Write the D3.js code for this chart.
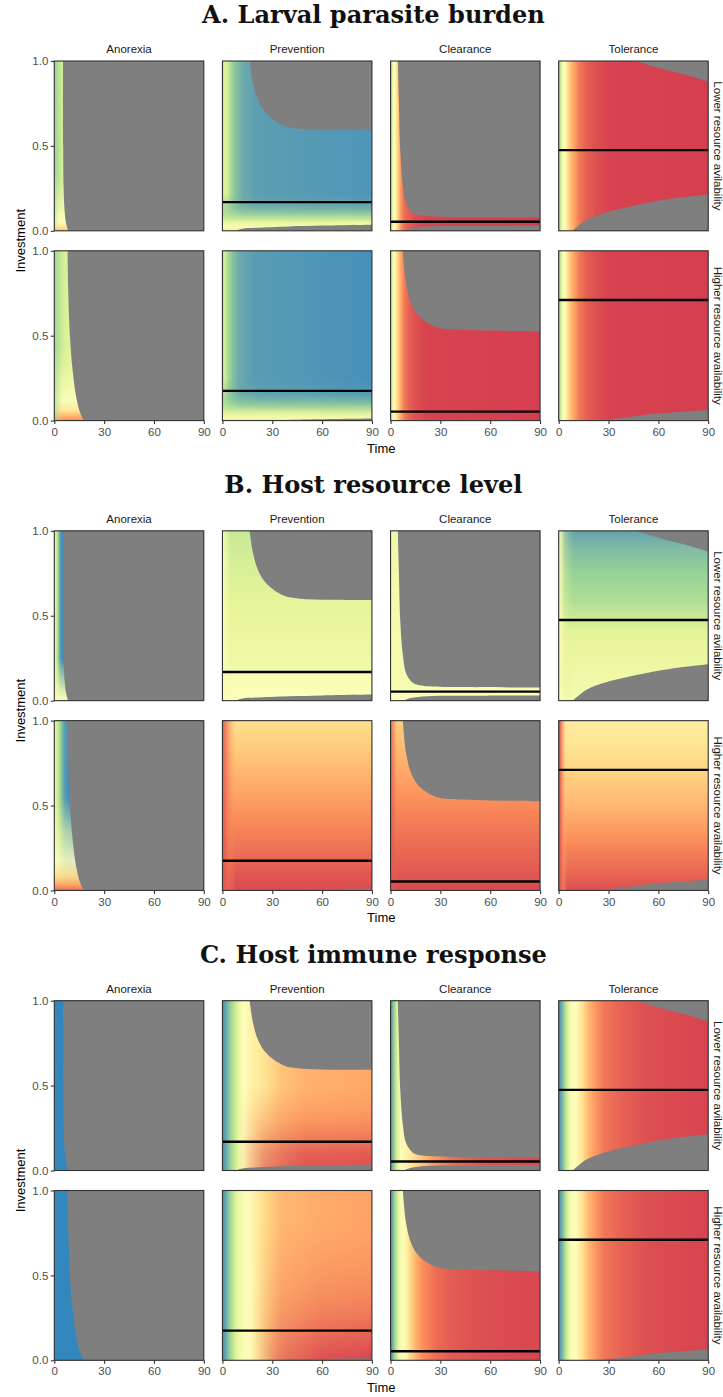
<!DOCTYPE html>
<html>
<head>
<meta charset="utf-8">
<script src="https://cdn.jsdelivr.net/npm/d3@7"></script>
<style>
  body { margin: 0; background: #fff; }
  svg { display: block; }
  text { font-family: "Liberation Sans", Arial, sans-serif; }
</style>
</head>
<body>
<svg id="chart" width="723" height="1397"></svg>
<script>
// facets and ticks
const strategies = ["Anorexia", "Prevention", "Clearance", "Tolerance"];
const resourceLabels = ["Lower resource avilability", "Higher resource availability"];
const sectionTitles = ["A. Larval parasite burden", "B. Host resource level", "C. Host immune response"];
const timeTicks = [0, 30, 60, 90];
const investTicks = [0, 0.5, 1];

// grey = host dead. same edges in all three sections, points are [time, investment]
const deathTopLow = [
  [[5.3, 1], [5.35, 0.5], [5.6, 0.25], [6.2, 0.12], [7, 0.05], [8.3, 0]],
  [[16.4, 1], [18.4, 0.87], [21.4, 0.77], [26.5, 0.69], [36.5, 0.62], [46.6, 0.6], [65, 0.594], [90, 0.593]],
  [[4.4, 1], [5, 0.77], [5.8, 0.48], [7.4, 0.27], [9.4, 0.16], [13.4, 0.105], [19.5, 0.088], [37.6, 0.08], [90, 0.078]],
  [[46.7, 1], [60.8, 0.957], [76.9, 0.917], [90, 0.878]]
];
const deathTopHigh = [
  [[8, 1], [8.35, 0.78], [9.4, 0.5], [11, 0.3], [13, 0.15], [15.4, 0.05], [17.8, 0]],
  null,
  [[7.4, 1], [9.4, 0.805], [12.4, 0.69], [17.5, 0.61], [27.5, 0.55], [43.6, 0.535], [60, 0.53], [90, 0.525]],
  null
];
const deathBottomLow = [
  null,
  [[8, 0], [12, 0.012], [20, 0.018], [40, 0.026], [60, 0.031], [90, 0.036]],
  [[8, 0], [12, 0.015], [22, 0.026], [50, 0.029], [90, 0.031]],
  [[8.4, 0], [16.5, 0.063], [26.5, 0.102], [46.7, 0.151], [66.8, 0.187], [90, 0.214]]
];
const deathBottomHigh = [
  null,
  [[28, 0], [50, 0.006], [90, 0.012]],
  null,
  [[22.5, 0], [36.6, 0.014], [56.7, 0.039], [90, 0.063]]
];

// optimal investment (black line)
const optimumLow = [null, 0.169, 0.053, 0.475];
const optimumHigh = [null, 0.175, 0.053, 0.71];

// fill values, 0 = red end and 1 = blue end of the Spectral scale
// [position, value] or [position, value, alpha]; fade = [position, alpha] along the other axis
function alongTime(stops, fade) { return { axis: "time", stops: stops, fade: fade }; }
function alongInvest(stops, fade) { return { axis: "invest", stops: stops, fade: fade }; }

const parasiteLowFill = [
  [alongTime([[0, 0.81], [1.5, 0.8], [3, 0.76], [5, 0.7], [9, 0.68]]),
   alongInvest([[0, 0.25, 1], [0.02, 0.36, 1], [0.06, 0.5, 0.9], [0.2, 0.6, 0.55], [0.35, 0.65, 0]],
               [[0, 0.5], [2.5, 1], [90, 1]])],
  [alongTime([[0, 0.76], [1.5, 0.68], [3, 0.7], [5, 0.8], [8, 0.87], [12, 0.92], [20, 0.95], [90, 0.97]]),
   alongInvest([[0, 0.4, 1], [0.02, 0.55, 1], [0.05, 0.65, 1], [0.09, 0.78, 0.85], [0.14, 0.88, 0.5], [0.22, 0.93, 0]])],
  [alongTime([[0, 0.82], [0.8, 0.72], [1.5, 0.57], [2.5, 0.49], [3.5, 0.37], [4.5, 0.3], [5.8, 0.21], [7.5, 0.12], [10, 0.07], [14, 0.035], [20, 0.01], [90, 0]])],
  [alongTime([[0, 0.85], [1, 0.75], [2, 0.59], [3.5, 0.49], [5, 0.37], [7, 0.275], [9.5, 0.205], [12.5, 0.12], [17, 0.065], [22, 0.035], [30, 0.008], [90, 0]])]
];
const parasiteHighFill = [
  [alongTime([[0, 0.82], [3, 0.76], [6, 0.7], [10, 0.67], [18, 0.66]]),
   alongInvest([[0, 0.16, 1], [0.025, 0.24, 1], [0.06, 0.37, 0.95], [0.12, 0.5, 0.85], [0.3, 0.6, 0.5], [0.45, 0.66, 0]],
               [[0, 0.35], [3, 0.7], [5, 1], [90, 1]])],
  [alongTime([[0, 0.77], [1.5, 0.7], [3, 0.79], [6, 0.87], [10, 0.925], [20, 0.955], [90, 0.98]]),
   alongInvest([[0, 0.32, 1], [0.015, 0.56, 1], [0.05, 0.68, 0.95], [0.1, 0.82, 0.7], [0.16, 0.9, 0.3], [0.25, 0.95, 0]])],
  [alongTime([[0, 0.82], [1, 0.68], [2, 0.49], [3.5, 0.37], [5, 0.275], [6.5, 0.205], [8.5, 0.12], [11, 0.07], [15, 0.035], [22, 0.01], [90, 0]])],
  [alongTime([[0, 0.85], [1, 0.75], [2, 0.59], [3.5, 0.49], [5, 0.37], [7, 0.275], [9.5, 0.205], [12.5, 0.12], [17, 0.065], [22, 0.035], [30, 0.008], [90, 0]])]
];

const resourceLowFill = [
  [alongTime([[0, 0.6], [1.5, 0.73], [2.5, 0.85], [3.5, 0.95], [5, 0.99], [9, 1]]),
   alongInvest([[0, 0.52, 1], [0.05, 0.58, 0.9], [0.15, 0.62, 0.5], [0.25, 0.65, 0]])],
  [alongInvest([[0, 0.52], [0.17, 0.56], [0.2, 0.6], [0.3, 0.62], [0.55, 0.66], [0.8, 0.7], [1, 0.73]]),
   alongTime([[0, 0.53, 0.9], [5, 0.55, 0]])],
  [alongInvest([[0, 0.51], [0.05, 0.53], [0.09, 0.57], [1, 0.6]])],
  [alongInvest([[0, 0.56], [0.1, 0.6], [0.25, 0.63], [0.4, 0.67], [0.478, 0.72], [0.6, 0.79], [0.75, 0.84], [0.9, 0.89], [1, 0.94]]),
   alongTime([[0, 0.47, 1], [1.5, 0.55, 0.8], [4, 0.65, 0.35], [9, 0.7, 0]])]
];
const resourceHighFill = [
  [alongTime([[0, 0.62], [2, 0.72], [4, 0.85], [6, 0.95], [9, 0.99], [18, 1]]),
   alongInvest([[0, 0.1, 1], [0.03, 0.2, 1], [0.08, 0.33, 0.95], [0.18, 0.5, 0.85], [0.35, 0.62, 0.6], [0.55, 0.66, 0]])],
  [alongInvest([[0, 0.02], [0.1, 0.05], [0.2, 0.09], [0.4, 0.16], [0.6, 0.22], [0.8, 0.28], [1, 0.34]]),
   alongTime([[0, 0.03, 0.9], [3, 0.1, 0.6], [8, 0.2, 0]])],
  [alongInvest([[0, 0.02], [0.1, 0.05], [0.3, 0.1], [0.5, 0.16], [0.7, 0.22], [1, 0.3]]),
   alongTime([[0, 0.03, 0.8], [4, 0.1, 0]])],
  [alongInvest([[0, 0.03], [0.1, 0.08], [0.3, 0.17], [0.5, 0.25], [0.7, 0.31], [0.85, 0.36], [1, 0.4]]),
   alongTime([[0, 0, 1], [2, 0.12, 0.7], [5, 0.3, 0]])]
];

const immuneLowFill = [
  [alongTime([[0, 1], [90, 1]])],
  [alongTime([[0, 0.99], [2, 0.93], [4.5, 0.85], [7, 0.75], [10, 0.63], [13, 0.51], [17, 0.43], [25, 0.36], [35, 0.28], [50, 0.24], [90, 0.22]]),
   alongInvest([[0, 0.03, 1], [0.1, 0.05, 0.95], [0.2, 0.1, 0.8], [0.35, 0.16, 0.45], [0.5, 0.2, 0]],
               [[10, 0], [25, 0.6], [50, 0.95], [90, 1]])],
  [alongTime([[0, 0.99], [1.2, 0.9], [2.5, 0.8], [4, 0.68], [6, 0.53], [10, 0.42], [16, 0.31], [25, 0.205], [38, 0.095], [55, 0.045], [90, 0.02]])],
  [alongTime([[0, 0.99], [1.5, 0.93], [3, 0.85], [4.8, 0.72], [7, 0.57], [10, 0.49], [14, 0.36], [18, 0.25], [22, 0.19], [27, 0.12], [38, 0.07], [55, 0.03], [90, 0.01]])]
];
const immuneHighFill = [
  [alongTime([[0, 1], [90, 1]])],
  [alongTime([[0, 0.99], [2, 0.93], [4.3, 0.84], [8, 0.68], [12, 0.55], [16, 0.48], [21, 0.4], [26, 0.32], [36, 0.25], [60, 0.225], [90, 0.21]]),
   alongInvest([[0, 0.01, 1], [0.15, 0.045, 0.85], [0.35, 0.1, 0.6], [0.6, 0.14, 0.3], [0.85, 0.2, 0]],
               [[18, 0], [35, 0.55], [60, 0.9], [90, 1]])],
  [alongTime([[0, 0.99], [1, 0.93], [2.4, 0.83], [4.4, 0.68], [6.4, 0.53], [9, 0.46], [11.5, 0.33], [15.5, 0.235], [19.5, 0.165], [27.5, 0.095], [37.6, 0.055], [58, 0.03], [90, 0.015]])],
  [alongTime([[0, 0.99], [1.5, 0.93], [3, 0.85], [4.8, 0.72], [7, 0.57], [10, 0.49], [14, 0.36], [18, 0.25], [22, 0.19], [27, 0.12], [38, 0.07], [55, 0.03], [90, 0.01]])]
];

const sectionFills = [
  [parasiteLowFill, parasiteHighFill],
  [resourceLowFill, resourceHighFill],
  [immuneLowFill, immuneHighFill]
];
const deathTop = [deathTopLow, deathTopHigh];
const deathBottom = [deathBottomLow, deathBottomHigh];
const optimum = [optimumLow, optimumHigh];

// layout
const left0 = 54.3, colStep = 168.13, panelW = 149.5;
const panelH = 169.8, rowStep = 189.8;
const sectionTop = [61, 530.85, 1000.7];
const deadGrey = "#7f7f7f";

const svg = d3.select("#chart");
const defs = svg.append("defs");

const x = d3.scaleLinear().domain([0, 90]).range([0, panelW]);
const y = d3.scaleLinear().domain([0, 1]).range([panelH, 0]);
const offTime = d3.scaleLinear().domain([0, 90]).range([0, 1]);
const color = d3.scaleLinear()
  .domain(d3.range(7).map(i => i / 6))
  .range(d3.schemeSpectral[7])
  .interpolate(d3.interpolateLab)
  .clamp(true);

const edge = d3.line()
  .x(d => x(d[0]))
  .y(d => y(d[1]))
  .curve(d3.curveCatmullRom.alpha(0.5));

function gradientFor(id, axis) {
  const gr = defs.append("linearGradient")
    .attr("id", id)
    .attr("gradientUnits", "userSpaceOnUse");
  if (axis === "time") gr.attr("x1", x(0)).attr("x2", x(90)).attr("y1", 0).attr("y2", 0);
  else gr.attr("x1", 0).attr("x2", 0).attr("y1", y(0)).attr("y2", y(1));
  return gr;
}
function offsetFor(axis, p) { return axis === "time" ? offTime(p) : p; }

let uid = 0;
function drawPanel(g, fills, top, bottom, opt) {
  g.append("rect").attr("width", panelW).attr("height", panelH).attr("fill", deadGrey);

  fills.forEach(layer => {
    const id = "f" + (uid++);
    const gr = gradientFor(id, layer.axis);
    layer.stops.forEach(s => {
      gr.append("stop")
        .attr("offset", offsetFor(layer.axis, s[0]))
        .attr("stop-color", color(s[1]))
        .attr("stop-opacity", s.length > 2 ? s[2] : 1);
    });
    const r = g.append("rect").attr("width", panelW).attr("height", panelH).attr("fill", `url(#${id})`);
    if (layer.fade) {
      const other = layer.axis === "time" ? "invest" : "time";
      const mgr = gradientFor(id + "m", other);
      layer.fade.forEach(f => {
        mgr.append("stop")
          .attr("offset", offsetFor(other, f[0]))
          .attr("stop-color", "#fff")
          .attr("stop-opacity", f[1]);
      });
      defs.append("mask").attr("id", id + "k")
        .attr("maskUnits", "userSpaceOnUse")
        .attr("x", 0).attr("y", 0).attr("width", panelW).attr("height", panelH)
        .append("rect").attr("width", panelW).attr("height", panelH).attr("fill", `url(#${id}m)`);
      r.attr("mask", `url(#${id}k)`);
    }
  });

  if (top) {
    const last = top[top.length - 1];
    let d = edge(top);
    if (last[1] === 0) d += `L${x(90)},${y(0)}`;
    d += `L${x(90)},${y(1)}Z`;
    g.append("path").attr("d", d).attr("fill", deadGrey);
  }
  if (bottom) {
    g.append("path").attr("d", edge(bottom) + `L${x(90)},${y(0)}Z`).attr("fill", deadGrey);
  }
  if (opt != null) {
    g.append("line")
      .attr("x1", x(0)).attr("x2", x(90))
      .attr("y1", y(opt)).attr("y2", y(opt))
      .attr("stroke", "#000").attr("stroke-width", 2.4);
  }
  g.append("rect").attr("width", panelW).attr("height", panelH)
    .attr("fill", "none").attr("stroke", "#333").attr("stroke-width", 1.1);
}

function styleAxis(a) {
  a.select(".domain").remove();
  a.selectAll(".tick line").attr("stroke", "#333").attr("stroke-width", 1.1);
  a.selectAll(".tick text").attr("fill", "#4d4d4d").style("font-size", "11.5px");
}

sectionTitles.forEach((title, s) => {
  const top0 = sectionTop[s];

  const t = svg.append("text")
    .attr("x", 373.4).attr("y", top0 - 38)
    .attr("text-anchor", "middle")
    .style("font-family", "'DejaVu Serif', 'Liberation Serif', serif")
    .style("font-weight", "bold")
    .style("font-size", "24px")
    .attr("fill", "#111")
    .text(title);
  if (s === 0) {
    // match the width of the reference heading
    const len = t.node().getComputedTextLength();
    svg.attr("data-title-size", 24 * 343 / len);
  }
  t.style("font-size", svg.attr("data-title-size") + "px");

  strategies.forEach((name, c) => {
    svg.append("text")
      .attr("x", left0 + c * colStep + panelW / 2)
      .attr("y", top0 - 7.7)
      .attr("text-anchor", "middle")
      .attr("fill", "#1a1a1a")
      .style("font-size", "11.5px")
      .text(name);
  });

  [0, 1].forEach(r => {
    const rowTop = top0 + r * rowStep;
    strategies.forEach((name, c) => {
      const g = svg.append("g").attr("transform", `translate(${left0 + c * colStep},${rowTop})`);
      drawPanel(g, sectionFills[s][r][c], deathTop[r][c], deathBottom[r][c], optimum[r][c]);
      if (c === 0) {
        g.append("g")
          .call(d3.axisLeft(y).tickValues(investTicks).tickFormat(d3.format(".1f")).tickSize(3.5).tickPadding(2.5))
          .call(styleAxis);
      }
      if (r === 1) {
        g.append("g").attr("transform", `translate(0,${panelH})`)
          .call(d3.axisBottom(x).tickValues(timeTicks).tickSize(3.5).tickPadding(3.5))
          .call(styleAxis);
      }
    });
    const cy = rowTop + panelH / 2;
    svg.append("text")
      .attr("transform", `translate(713.5,${cy}) rotate(90)`)
      .attr("text-anchor", "middle")
      .attr("fill", "#1a1a1a")
      .style("font-size", "11.5px")
      .text(resourceLabels[r]);
  });

  const bottom = top0 + rowStep + panelH;
  svg.append("text")
    .attr("x", left0 + (3 * colStep + panelW) / 2)
    .attr("y", bottom + 32)
    .attr("text-anchor", "middle")
    .attr("fill", "#000")
    .style("font-size", "13px")
    .text("Time");
  svg.append("text")
    .attr("transform", `translate(24.5,${(top0 + bottom) / 2}) rotate(-90)`)
    .attr("text-anchor", "middle")
    .attr("fill", "#000")
    .style("font-size", "13px")
    .text("Investment");
});
</script>
</body>
</html>
